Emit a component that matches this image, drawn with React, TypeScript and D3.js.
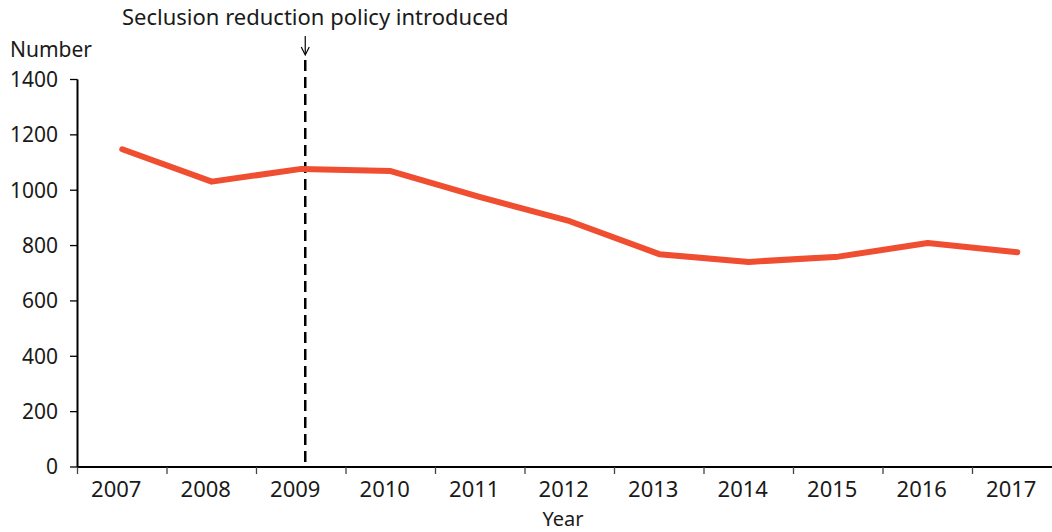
import React from "react";
import * as d3 from "d3";

const years = ["2007","2008","2009","2010","2011","2012","2013","2014","2015","2016","2017"];
const values = [1148, 1031, 1077, 1069, 975, 888, 769, 741, 760, 809, 776];
const yTicks = [0, 200, 400, 600, 800, 1000, 1200, 1400];
const policyYear = "2009";
const annotation = "Seclusion reduction policy introduced";

const W = 1052, H = 532;
const font = "'Noto Sans', 'Open Sans', sans-serif";

export default function App() {
  const x = d3.scaleBand<string>().domain(years).range([77.5, 77.5 + 89.5 * 11]);
  const y = d3.scaleLinear().domain([0, 1400]).range([467, 79.5]);
  const cx = (d: string) => (x(d) as number) + x.bandwidth() / 2;
  const line = d3.line<number>().x((_, i) => cx(years[i])).y((v) => y(v));
  const px = cx(policyYear) + 4;
  return (
    <svg width={W} height={H} style={{ position: "absolute", left: 0, top: 0, fontFamily: font }}>
      <rect width={W} height={H} fill="#fff" />
      {/* y axis */}
      <line x1={77.5} x2={77.5} y1={y(1400)} y2={y(0)} stroke="#000" strokeWidth={2} />
      {yTicks.map((t) => (
        <g key={t}>
          <line x1={70} x2={77.5} y1={y(t)} y2={y(t)} stroke="#000" strokeWidth={1.3} />
          <text x={58} y={y(t)} dy="0.35em" textAnchor="end" fontSize={21} fill="#1a1a1a">{t}</text>
        </g>
      ))}
      {/* x axis */}
      <line x1={77.5} x2={W} y1={y(0)} y2={y(0)} stroke="#000" strokeWidth={2} />
      {years.map((yr) => (
        <g key={yr}>
          <line x1={x(yr) as number} x2={x(yr) as number} y1={y(0)} y2={y(0) + 7} stroke="#444" strokeWidth={1.3} />
          <text x={cx(yr) - 6} y={497} textAnchor="middle" fontSize={22} fill="#1a1a1a">{yr}</text>
        </g>
      ))}
      <text x={563} y={526} textAnchor="middle" fontSize={20} fill="#1a1a1a">Year</text>
      <text x={10} y={57} fontSize={21} fill="#1a1a1a">Number</text>
      {/* policy line */}
      <line x1={px} x2={px} y1={60} y2={y(0)} stroke="#000" strokeWidth={2.5} strokeDasharray="11 6" />
      <line x1={px} x2={px} y1={36} y2={54} stroke="#000" strokeWidth={1.2} />
      <path d={`M${px - 4},${47} L${px},${55} L${px + 4},${47}`} fill="none" stroke="#000" strokeWidth={1.2} />
      <text x={122} y={25} textAnchor="start" fontSize={22} fill="#1a1a1a">{annotation}</text>
      {/* data line */}
      <path d={line(values) || ""} fill="none" stroke="#F04E31" strokeWidth={6} strokeLinecap="round" strokeLinejoin="round" />
    </svg>
  );
}
